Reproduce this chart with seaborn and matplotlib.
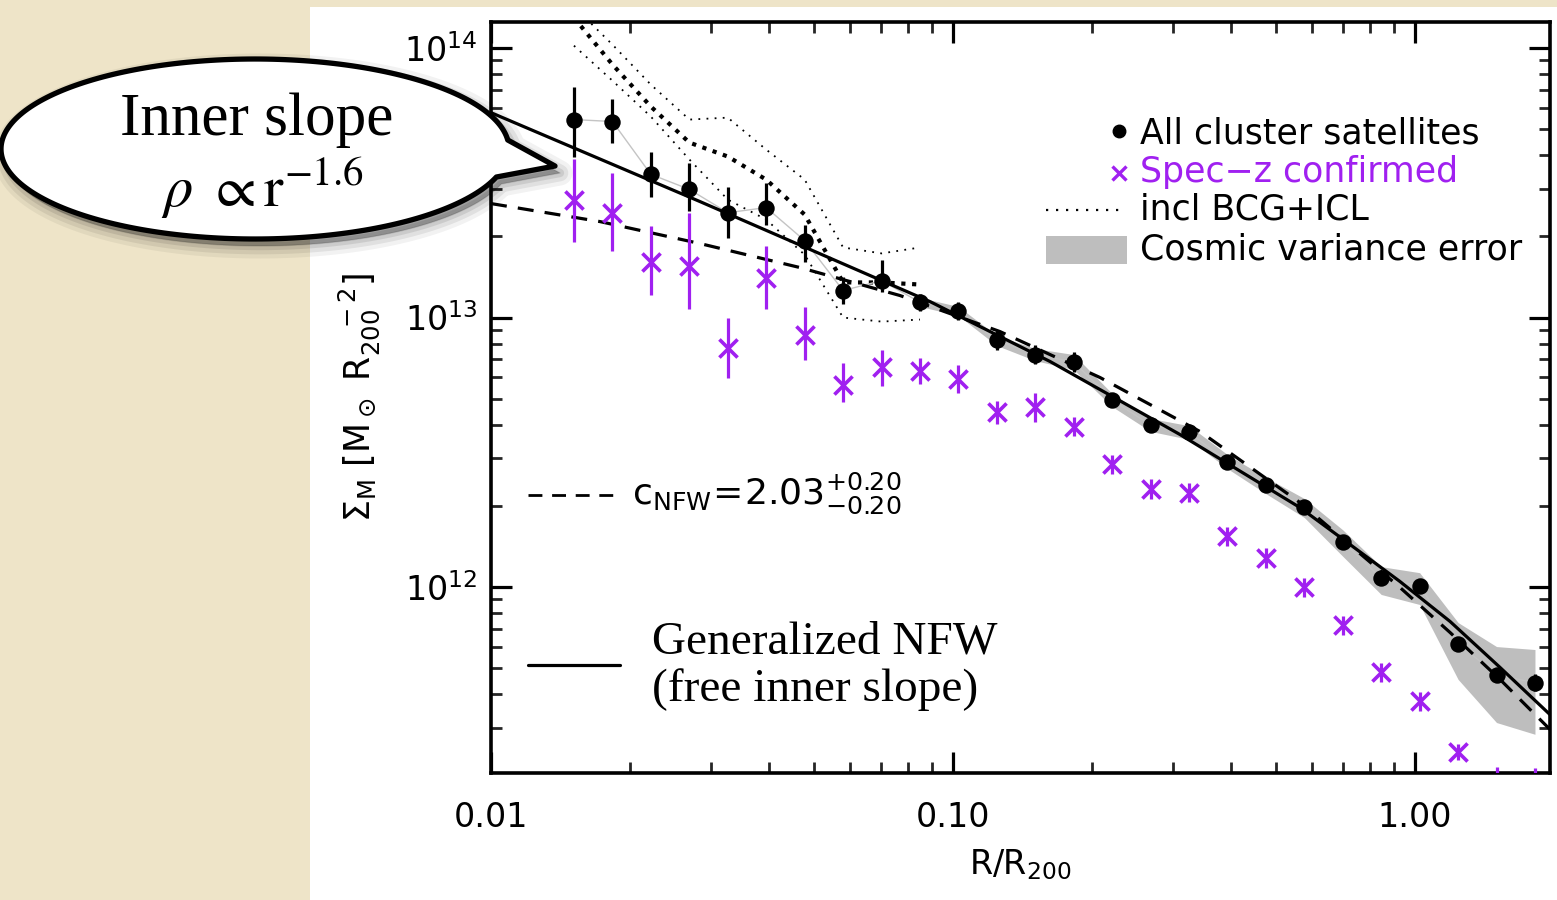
import numpy as np
import matplotlib
matplotlib.use("Agg")
import matplotlib.pyplot as plt
import seaborn as sns
import pandas as pd
from matplotlib.path import Path
from matplotlib.patches import PathPatch, Rectangle
from matplotlib.ticker import FixedLocator, FixedFormatter, LogLocator, NullFormatter

# ---------------- data ----------------
r_bins = [0.01512, 0.01832, 0.02218, 0.02688, 0.03255, 0.03942, 0.04775, 0.05783,
          0.07005, 0.08483, 0.1027, 0.1244, 0.1507, 0.1825, 0.2211, 0.2677, 0.3243,
          0.3927, 0.4756, 0.5761, 0.6977, 0.8451, 1.0235, 1.2397, 1.5015, 1.8185]

sigma_all = [5.43e13, 5.34e13, 3.40e13, 2.99e13, 2.45e13, 2.56e13, 1.93e13, 1.26e13,
             1.37e13, 1.14e13, 1.055e13, 8.24e12, 7.29e12, 6.85e12, 4.94e12, 3.99e12,
             3.75e12, 2.92e12, 2.39e12, 1.98e12, 1.47e12, 1.08e12, 1.01e12, 6.16e11,
             4.73e11, 4.41e11]
all_lo = [3.96e13, 4.46e13, 2.81e13, 2.49e13, 1.98e13, 2.21e13, 1.61e13, 1.12e13,
          1.24e13, 1.06e13, 9.8e12, 7.6e12, 6.7e12, 6.3e12, 4.65e12, 3.8e12,
          3.55e12, 2.78e12, 2.28e12, 1.89e12, 1.40e12, 1.03e12, 9.6e11, 5.8e11,
          4.45e11, 4.1e11]
all_hi = [7.20e13, 6.50e13, 4.10e13, 3.76e13, 3.04e13, 3.17e13, 2.21e13, 1.41e13,
          1.63e13, 1.22e13, 1.14e13, 8.9e12, 7.9e12, 7.45e12, 5.25e12, 4.2e12,
          3.95e12, 3.06e12, 2.5e12, 2.07e12, 1.54e12, 1.13e12, 1.06e12, 6.5e11,
          5.0e11, 4.75e11]

sigma_specz = [2.72e13, 2.45e13, 1.61e13, 1.56e13, 7.74e12, 1.40e13, 8.65e12, 5.60e12,
               6.58e12, 6.36e12, 5.94e12, 4.48e12, 4.64e12, 3.94e12, 2.85e12, 2.32e12,
               2.24e12, 1.54e12, 1.28e12, 9.96e11, 7.20e11, 4.82e11, 3.76e11, 2.45e11,
               1.6e11, 1.5e11]
specz_lo = [1.90e13, 1.76e13, 1.21e13, 1.08e13, 5.99e12, 1.08e13, 6.98e12, 4.84e12,
            5.55e12, 5.69e12, 5.27e12, 4.01e12, 4.08e12, 3.62e12, 2.62e12, 2.13e12,
            2.06e12, 1.42e12, 1.18e12, 9.2e11, 6.65e11, 4.45e11, 3.47e11, 2.28e11,
            1.45e11, 1.35e11]
specz_hi = [3.89e13, 3.45e13, 2.18e13, 2.45e13, 1.00e13, 1.85e13, 1.09e13, 6.81e12,
            7.61e12, 7.05e12, 6.64e12, 4.92e12, 5.27e12, 4.29e12, 3.10e12, 2.52e12,
            2.44e12, 1.67e12, 1.39e12, 1.08e12, 7.8e11, 5.22e11, 4.07e11, 2.62e11,
            2.15e11, 2.12e11]

# cosmic variance band (bins 9..25)
band_r = r_bins[9:]
band_lo = [1.099e13, 1.017e13, 7.87e12, 6.92e12, 6.41e12, 4.67e12, 3.78e12, 3.53e12,
           2.75e12, 2.22e12, 1.81e12, 1.30e12, 9.38e11, 8.61e11, 4.54e11, 3.14e11, 2.84e11]
band_hi = [1.186e13, 1.099e13, 8.57e12, 7.67e12, 7.29e12, 5.22e12, 4.22e12, 3.97e12,
           3.10e12, 2.55e12, 2.13e12, 1.63e12, 1.19e12, 1.13e12, 7.38e11, 6.01e11, 5.86e11]

# incl BCG+ICL (bins 0..9)
bcg_r = r_bins[:10]
bcg_mid = [1.297e14, 8.69e13, 6.07e13, 4.46e13, 3.96e13, 3.25e13, 2.41e13, 1.35e13, 1.35e13, 1.326e13]
bcg_hi = [1.426e14, 1.030e14, 7.32e13, 5.43e13, 5.52e13, 4.20e13, 3.25e13, 1.82e13, 1.73e13, 1.82e13]
bcg_lo = [1.021e14, 7.57e13, 5.57e13, 3.86e13, 2.74e13, 2.31e13, 1.71e13, 1.00e13, 9.66e12, 9.83e12]

# model curves
gnfw_r = [0.0100, 0.02834, 0.08918, 0.1622, 0.3100, 0.5636, 0.7234, 0.9279, 1.1909, 1.5276, 1.960]
gnfw_s = [5.76e13, 2.694e13, 1.146e13, 6.87e12, 3.68e12, 1.972e12, 1.438e12, 1.048e12, 7.45e11, 5.03e11, 3.36e11]
nfw_r = [0.0100, 0.01721, 0.02834, 0.04665, 0.07679, 0.1264, 0.2081, 0.3425, 0.5636, 0.9279, 1.1909, 1.5276, 1.960]
nfw_s = [2.649e13, 2.271e13, 1.882e13, 1.533e13, 1.207e13, 8.87e12, 5.99e12, 3.776e12, 2.058e12, 9.96e11, 6.78e11, 4.54e11, 2.96e11]

x_ticks = [0.01, 0.1, 1.0]
x_ticklabels = ["0.01", "0.10", "1.00"]
y_ticks = [1e12, 1e13, 1e14]
y_ticklabels = [r"$10^{12}$", r"$10^{13}$", r"$10^{14}$"]

PURPLE = "#a020f0"
W, H = 1557, 900

# ---------------- style ----------------
sns.set_theme(style="ticks")
plt.rcParams["font.family"] = ["DejaVu Sans"]
plt.rcParams["mathtext.fontset"] = "dejavusans"
plt.rcParams["text.color"] = "black"
plt.rcParams["axes.labelcolor"] = "black"

fig = plt.figure(figsize=(W / 100, H / 100), dpi=100)
fig.patch.set_facecolor("#eee4c8")
fig.add_artist(Rectangle((310 / W, 0), 1, 893 / H, transform=fig.transFigure,
                         facecolor="white", edgecolor="none", zorder=-1))

ax = fig.add_axes([491 / W, 127 / H, 1059 / W, 751 / H])
ax.set_xscale("log")
ax.set_yscale("log")
ax.set_facecolor("white")

# cosmic variance band
ax.fill_between(band_r, band_lo, band_hi, color="#bebebe", lw=0, zorder=1)

# BCG+ICL dotted lines
sns.lineplot(x=bcg_r, y=bcg_hi, ax=ax, color="black", lw=1.3, linestyle=(0, (1, 3.5)), sort=False, estimator=None, zorder=2)
sns.lineplot(x=bcg_r, y=bcg_lo, ax=ax, color="black", lw=1.3, linestyle=(0, (1, 3.5)), sort=False, estimator=None, zorder=2)
sns.lineplot(x=bcg_r, y=bcg_mid, ax=ax, color="black", lw=3.0, linestyle=(0, (1, 1.6)), sort=False, estimator=None, zorder=2)

# thin grey connecting line
sns.lineplot(x=r_bins, y=sigma_all, ax=ax, color="#c4c4c4", lw=1.0, sort=False, estimator=None, zorder=2)

# model curves
sns.lineplot(x=gnfw_r, y=gnfw_s, ax=ax, color="black", lw=2.3, sort=False, estimator=None, zorder=3)
sns.lineplot(x=nfw_r, y=nfw_s, ax=ax, color="black", lw=2.3, linestyle=(0, (5, 3.5)), sort=False, estimator=None, zorder=3)

# error bars
ax.vlines(r_bins, specz_lo, specz_hi, color=PURPLE, lw=2.3, zorder=4)
ax.vlines(r_bins, all_lo, all_hi, color="black", lw=2.3, zorder=5)

# markers
sns.scatterplot(x=r_bins, y=sigma_specz, ax=ax, marker="x", s=170, color=PURPLE, linewidth=2.6, zorder=4)
sns.scatterplot(x=r_bins, y=sigma_all, ax=ax, marker="o", s=140, color="black", edgecolor="black", linewidth=0, zorder=6)

ax.set_xlim(0.01, 1.96)
ax.set_ylim(2.04e11, 1.25e14)

# ticks
ax.xaxis.set_major_locator(FixedLocator(x_ticks))
ax.xaxis.set_major_formatter(FixedFormatter(x_ticklabels))
ax.xaxis.set_minor_locator(LogLocator(base=10, subs=np.arange(2, 10)))
ax.xaxis.set_minor_formatter(NullFormatter())
ax.yaxis.set_major_locator(FixedLocator(y_ticks))
ax.yaxis.set_major_formatter(FixedFormatter(y_ticklabels))
ax.yaxis.set_minor_locator(LogLocator(base=10, subs=np.arange(2, 10)))
ax.yaxis.set_minor_formatter(NullFormatter())
ax.tick_params(which="major", direction="in", length=15, width=2.3, top=True, right=True,
               labelsize=24, colors="black")
ax.tick_params(which="minor", direction="in", length=8, width=2.0, top=True, right=True)
ax.tick_params(axis="x", which="major", pad=20)
ax.tick_params(axis="y", which="major", pad=10)
for s in ax.spines.values():
    s.set_linewidth(2.6)
    s.set_color("black")

ax.set_xlabel(r"R/R$_{200}$", fontsize=24, labelpad=10, color="black")
ax.set_ylabel(r"$\Sigma_\mathrm{M}\ [\mathrm{M}_\odot\ \mathrm{R}_{200}^{\ \ \ -2}]$", fontsize=25,
              labelpad=16, color="black")

# legend (manual, IDL style)
tA = ax.transAxes
ax.plot([0.5930], [0.8549], marker="o", ms=9, color="black", transform=tA, clip_on=False)
ax.text(0.6128, 0.852, "All cluster satellites", transform=tA, fontsize=25, va="center", color="black")
ax.plot([0.5930], [0.7989], marker="x", ms=10, mew=2.4, color=PURPLE, transform=tA)
ax.text(0.6128, 0.800, "Spec\u2212z confirmed", transform=tA, fontsize=25, va="center", color=PURPLE)
ax.plot([0.5241, 0.5987], [0.7497, 0.7497], color="black", lw=1.6, linestyle=(0, (1, 3.5)), transform=tA)
ax.text(0.6128, 0.7497, "incl BCG+ICL", transform=tA, fontsize=25, va="center", color="black")
ax.add_patch(Rectangle((0.5241, 0.6778), 0.0765, 0.0373, transform=tA, facecolor="#bebebe", edgecolor="none"))
ax.text(0.6128, 0.6977, "Cosmic variance error", transform=tA, fontsize=25, va="center", color="black")

# model annotations
ax.plot([0.0349, 0.1218], [0.3702, 0.3702], color="black", lw=2.0, linestyle=(0, (5, 3.5)), transform=tA)
ax.text(0.1331, 0.372, r"$\mathrm{c_{NFW}}\!=\!2.03^{+0.20}_{-0.20}$", transform=tA, fontsize=26,
        va="center", color="black")
ax.plot([0.0349, 0.1218], [0.1438, 0.1438], color="black", lw=2.3, transform=tA)
ax.text(0.152, 0.1425, "Generalized NFW\n(free inner slope)", transform=tA, fontsize=34,
        family="Liberation Serif", va="center", ha="left", linespacing=1.12, color="black")

# ---------------- speech bubble overlay ----------------
ov = fig.add_axes([0, 0, 1, 1], zorder=5)
ov.set_xlim(0, W)
ov.set_ylim(H, 0)
ov.axis("off")
ov.patch.set_alpha(0)

cx, cy, a, b = 255, 149, 254, 90
t2 = np.arcsin((177 - cy) / b)
t1 = np.arcsin((140 - cy) / b)
ts = np.linspace(t2, t1 + 2 * np.pi, 240)
verts = [(cx + a * np.cos(t), cy + b * np.sin(t)) for t in ts]
verts += [(555, 166), verts[0]]
codes = [Path.MOVETO] + [Path.LINETO] * (len(verts) - 2) + [Path.CLOSEPOLY]

for lw_s, al in [(18, 0.05), (12, 0.07), (6, 0.09), (1, 0.12)]:
    sv = [(x + 5, y + 7) for x, y in verts]
    ov.add_patch(PathPatch(Path(sv, codes), facecolor=(0, 0, 0, al), edgecolor=(0, 0, 0, al),
                           lw=lw_s, joinstyle="round"))
ov.add_patch(PathPatch(Path(verts, codes), facecolor="white", edgecolor="black", lw=3.8,
                       joinstyle="round"))
ov.text(257, 120, "Inner slope", fontsize=44, family="Liberation Serif", ha="center", va="center",
        color="black")
ov.text(262, 188, r"$\rho\ \propto \mathrm{r}^{-1.6}$", fontsize=42, math_fontfamily="stix",
        ha="center", va="center", color="black")

fig.savefig("out.png", dpi=100, facecolor=fig.get_facecolor())
